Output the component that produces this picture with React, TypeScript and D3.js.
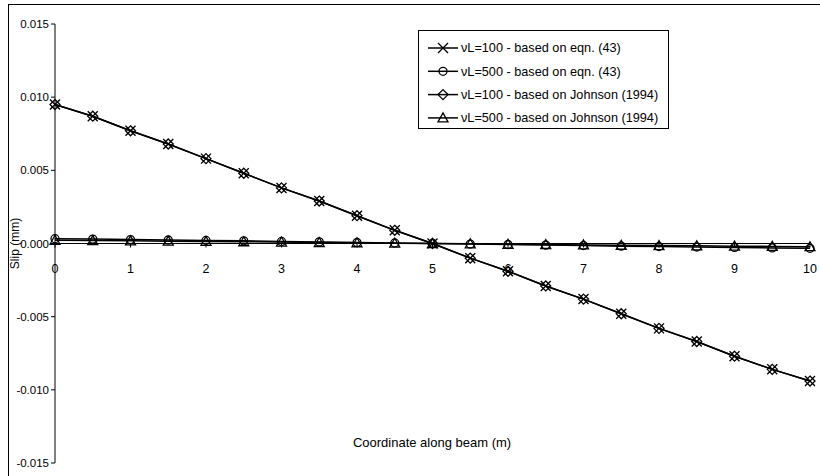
import React from "react";
import * as d3 from "d3";

const xs = [0, 0.5, 1, 1.5, 2, 2.5, 3, 3.5, 4, 4.5, 5, 5.5, 6, 6.5, 7, 7.5, 8, 8.5, 9, 9.5, 10];
const eqn100 = [0.0095, 0.0087, 0.0077, 0.0068, 0.0058, 0.0048, 0.0038, 0.0029, 0.0019, 0.0009, 0.0, -0.001, -0.0019, -0.0029, -0.0038, -0.0048, -0.0058, -0.0067, -0.0077, -0.0086, -0.0094];
const eqn500 = [0.00033, 0.0003, 0.00027, 0.00024, 0.00021, 0.00018, 0.00014, 0.00011, 0.00007, 0.00004, 0.0, -0.00004, -0.00007, -0.00011, -0.00014, -0.00018, -0.00021, -0.00024, -0.00027, -0.0003, -0.00033];
const johnson100 = [0.0095, 0.0087, 0.0077, 0.0068, 0.0058, 0.0048, 0.0038, 0.0029, 0.0019, 0.0009, 0.0, -0.001, -0.0019, -0.0029, -0.0038, -0.0048, -0.0058, -0.0067, -0.0077, -0.0086, -0.0094];
const johnson500 = [0.00022, 0.0002, 0.00018, 0.00016, 0.00014, 0.00012, 0.0001, 0.00007, 0.00005, 0.00002, 0.0, -0.00002, -0.00005, -0.00007, -0.0001, -0.00012, -0.00014, -0.00016, -0.00018, -0.0002, -0.00022];
const xTicks = [0, 1, 2, 3, 4, 5, 6, 7, 8, 9, 10];
const yTicks = [0.015, 0.01, 0.005, 0, -0.005, -0.01, -0.015];
const legendLabels = [
  "\u03bdL=100 - based on eqn. (43)",
  "\u03bdL=500 - based on eqn. (43)",
  "\u03bdL=100 - based on Johnson (1994)",
  "\u03bdL=500 - based on Johnson (1994)",
];
const markerTypes = ["cross", "circle", "diamond", "triangle"];

const FONT = "Liberation Sans, Arial, sans-serif";

function Marker({ type, x, y }: { type: string; x: number; y: number }) {
  const s = 5;
  if (type === "cross")
    return (
      <path d={`M${x - s},${y - s}L${x + s},${y + s}M${x - s},${y + s}L${x + s},${y - s}`} stroke="#000" strokeWidth={1.4} fill="none" />
    );
  if (type === "circle") return <circle cx={x} cy={y} r={4} stroke="#000" strokeWidth={1.3} fill="none" />;
  if (type === "diamond")
    return <path d={`M${x},${y - s}L${x + s},${y}L${x},${y + s}L${x - s},${y}Z`} stroke="#000" strokeWidth={1.3} fill="none" />;
  return <path d={`M${x},${y - 5}L${x + 5},${y + 4}L${x - 5},${y + 4}Z`} stroke="#000" strokeWidth={1.3} fill="none" />;
}

export default function App() {
  const W = 820, H = 476;
  const x = d3.scaleLinear().domain([0, 10]).range([55, 810]);
  const y = d3.scaleLinear().domain([-0.015, 0.015]).range([463, 24]);
  const series = [eqn100, eqn500, johnson100, johnson500];
  const line = d3
    .line<number>()
    .x((_, i) => x(xs[i]))
    .y((d) => y(d));
  const lx = 418, ly = 30, lw = 250, lh = 98;
  return (
    <svg width={W} height={H} style={{ position: "absolute", left: 0, top: 0, background: "#fff" }} fontFamily={FONT}>
      <rect x={8.5} y={4.5} width={830} height={490} fill="#fff" stroke="#000" strokeWidth={1} />
      {/* y axis */}
      <line x1={x(0)} x2={x(0)} y1={y(0.015)} y2={y(-0.015)} stroke="#000" strokeWidth={1} />
      {yTicks.map((t) => (
        <g key={t}>
          <line x1={x(0) - 4} x2={x(0)} y1={y(t)} y2={y(t)} stroke="#000" />
          <text x={x(0) - 6} y={y(t)} dy="0.35em" textAnchor="end" fontSize={11.5}>
            {d3.format(".3f")(t).replace("\u2212", "-")}
          </text>
        </g>
      ))}
      {/* x axis */}
      <line x1={x(0)} x2={x(10)} y1={y(0)} y2={y(0)} stroke="#000" strokeWidth={1} />
      {xTicks.map((t) => (
        <g key={t}>
          <line x1={x(t)} x2={x(t)} y1={y(0)} y2={y(0) + 4} stroke="#000" />
          <text x={x(t)} y={y(0) + 25} dy="0.35em" textAnchor="middle" fontSize={12.5}>
            {t}
          </text>
        </g>
      ))}
      <text x={15} y={y(0)} transform={`rotate(-90 15 ${y(0)})`} textAnchor="middle" dy="0.35em" fontSize={12}>
        Slip (mm)
      </text>
      <text x={432} y={442} textAnchor="middle" dy="0.35em" fontSize={13}>
        Coordinate along beam (m)
      </text>
      {series.map((s, k) => (
        <g key={k}>
          <path d={line(s) || ""} fill="none" stroke="#000" strokeWidth={1.5} />
          {s.map((v, i) => (
            <Marker key={i} type={markerTypes[k]} x={x(xs[i])} y={y(v)} />
          ))}
        </g>
      ))}
      {/* legend */}
      <rect x={lx + 0.5} y={ly + 0.5} width={lw} height={lh} fill="#fff" stroke="#000" strokeWidth={1} />
      {legendLabels.map((lab, k) => {
        const yy = ly + 18 + k * 23.3;
        return (
          <g key={k}>
            <line x1={lx + 10} x2={lx + 40} y1={yy} y2={yy} stroke="#000" strokeWidth={1.5} />
            <Marker type={markerTypes[k]} x={lx + 25} y={yy} />
            <text x={lx + 43} y={yy} dy="0.35em" fontSize={12.7}>
              {lab}
            </text>
          </g>
        );
      })}
    </svg>
  );
}
